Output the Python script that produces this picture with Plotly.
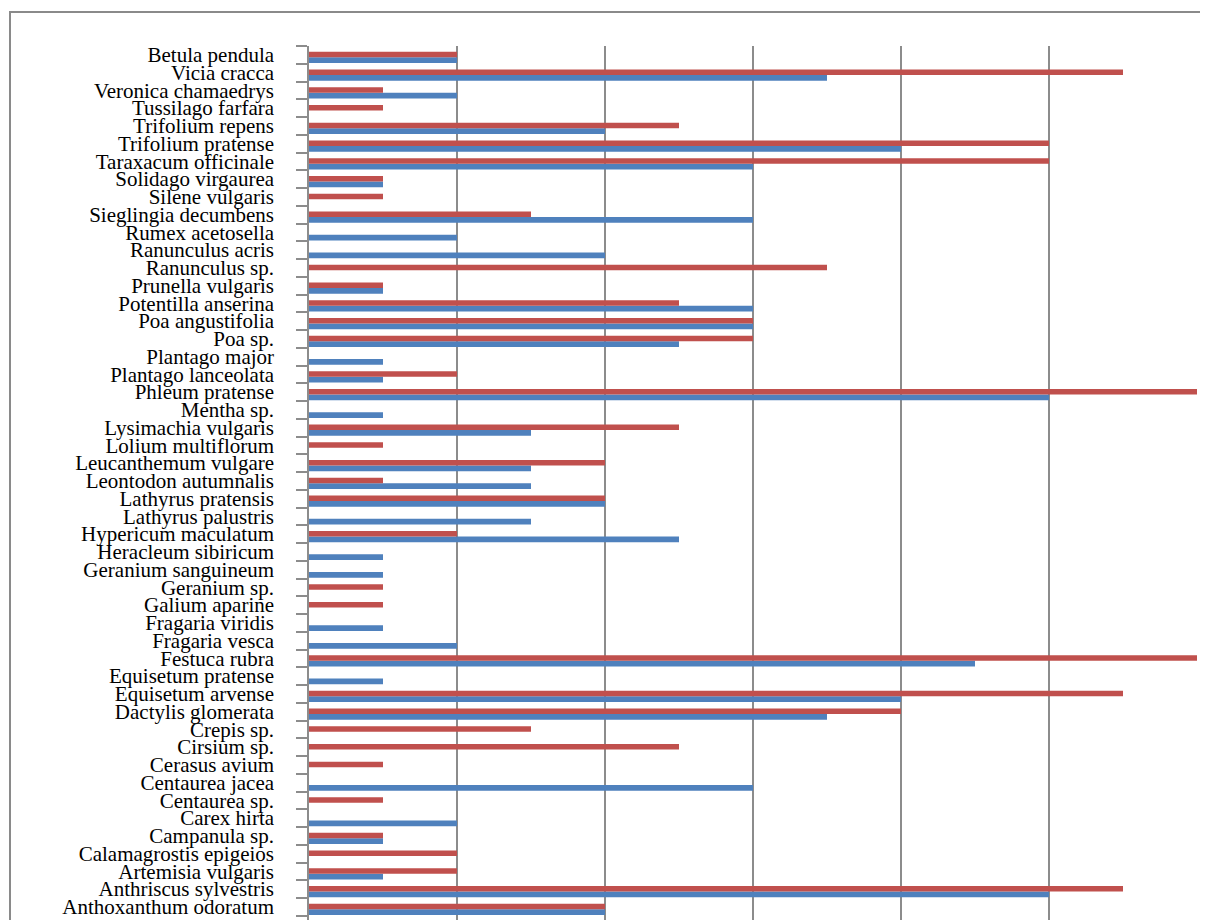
import plotly.graph_objects as go

# categories listed bottom -> top (as in the source sheet)
species = [
    "Anthoxanthum odoratum", "Anthriscus sylvestris", "Artemisia vulgaris",
    "Calamagrostis epigeios", "Campanula sp.", "Carex hirta", "Centaurea sp.",
    "Centaurea jacea", "Cerasus avium", "Cirsium sp.", "Crepis sp.",
    "Dactylis glomerata", "Equisetum arvense", "Equisetum pratense",
    "Festuca rubra", "Fragaria vesca", "Fragaria viridis", "Galium aparine",
    "Geranium sp.", "Geranium sanguineum", "Heracleum sibiricum",
    "Hypericum maculatum", "Lathyrus palustris", "Lathyrus pratensis",
    "Leontodon autumnalis", "Leucanthemum vulgare", "Lolium multiflorum",
    "Lysimachia vulgaris", "Mentha sp.", "Phleum pratense",
    "Plantago lanceolata", "Plantago major", "Poa sp.", "Poa angustifolia",
    "Potentilla anserina", "Prunella vulgaris", "Ranunculus sp.",
    "Ranunculus acris", "Rumex acetosella", "Sieglingia decumbens",
    "Silene vulgaris", "Solidago virgaurea", "Taraxacum officinale",
    "Trifolium pratense", "Trifolium repens", "Tussilago farfara",
    "Veronica chamaedrys", "Vicia cracca", "Betula pendula",
]

series_blue = [
    4, 10, 1, 0, 1, 2, 0, 6, 0, 0, 0, 7, 8, 1, 9, 2, 1, 0, 0, 1, 1,
    5, 3, 4, 3, 3, 0, 3, 1, 10, 1, 1, 5, 6, 6, 1, 0, 4, 2, 6, 0, 1,
    6, 8, 4, 0, 2, 7, 2,
]

series_red = [
    4, 11, 2, 2, 1, 0, 1, 0, 1, 5, 3, 8, 11, 0, 12, 0, 0, 1, 1, 0, 0,
    2, 0, 4, 1, 4, 1, 5, 0, 12, 2, 0, 6, 6, 5, 1, 7, 0, 0, 3, 1, 1,
    10, 10, 5, 1, 1, 11, 2,
]

x_ticks = [0, 2, 4, 6, 8, 10, 12]

BLUE = "#4F81BD"
RED = "#C0504D"
GRID = "#8C8C8C"

# page body has an 8px margin; figure sized to fit the 1208x920 window
W, H = 1200, 912
L, R, T, B = 301, 11, 38, 0
plot_w = W - L - R
plot_h = H - T - B
slot = 17.75
n = len(species)
y_top = n - 0.5
y_bot = y_top - plot_h / slot

fig = go.Figure()
fig.add_trace(go.Bar(
    y=species, x=series_blue, orientation="h",
    marker=dict(color=BLUE, line=dict(width=0)),
    width=0.32, offset=-0.46, name="1",
))
fig.add_trace(go.Bar(
    y=species, x=series_red, orientation="h",
    marker=dict(color=RED, line=dict(width=0)),
    width=0.32, offset=-0.14, name="2",
))

fig.update_layout(
    width=W, height=H,
    margin=dict(l=L, r=R, t=T, b=B, pad=0),
    paper_bgcolor="white", plot_bgcolor="white",
    showlegend=False,
    barmode="overlay",
    xaxis=dict(
        range=[0, 12], tickvals=x_ticks, showticklabels=False,
        showgrid=True, gridcolor=GRID, gridwidth=1.5,
        zeroline=False, showline=False, ticks="",
    ),
    yaxis=dict(
        type="category", categoryorder="array", categoryarray=species,
        tickmode="array", tickvals=species, ticktext=species,
        range=[y_bot, y_top],
        showline=True, linecolor=GRID, linewidth=1.5,
        ticks="outside", ticklen=11, tickcolor=GRID, tickwidth=1.5,
        tickson="boundaries", ticklabelstandoff=29,
        showgrid=False, zeroline=False,
        tickfont=dict(family="Liberation Serif", size=21, color="black"),
    ),
    shapes=[dict(
        type="rect", xref="paper", yref="paper",
        x0=(2 - L) / plot_w, x1=1.05,
        y0=-0.05, y1=(H - 4 - B) / plot_h,
        line=dict(color="#8A8A8A", width=2), fillcolor="rgba(0,0,0,0)",
        layer="below",
    )],
)

fig.write_html("out.html")
